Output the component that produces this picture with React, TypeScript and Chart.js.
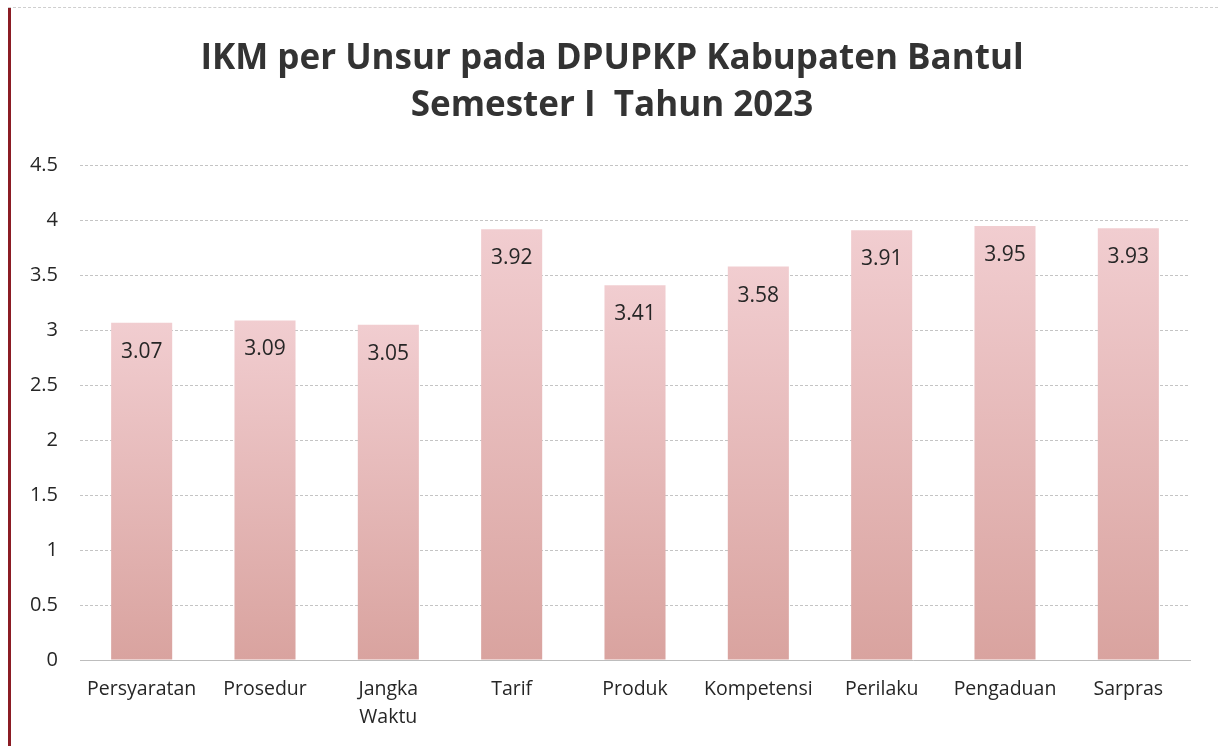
import React, { useEffect, useRef } from "react";
import { Chart, registerables } from "chart.js";

Chart.register(...registerables);

const titleLines = ["IKM per Unsur pada DPUPKP Kabupaten Bantul", "Semester I  Tahun 2023"];
const categories: (string | string[])[] = [
  "Persyaratan",
  "Prosedur",
  ["Jangka", "Waktu"],
  "Tarif",
  "Produk",
  "Kompetensi",
  "Perilaku",
  "Pengaduan",
  "Sarpras",
];
const values = [3.07, 3.09, 3.05, 3.92, 3.41, 3.58, 3.91, 3.95, 3.93];
const yMax = 4.5;
const yStep = 0.5;

const FONT = "'Open Sans', sans-serif";
const TEXT = "#262626";

const valueLabels = {
  id: "valueLabels",
  afterDatasetsDraw(chart: any) {
    const ctx = chart.ctx;
    const meta = chart.getDatasetMeta(0);
    ctx.save();
    ctx.font = `21px ${FONT}`;
    ctx.fillStyle = TEXT;
    ctx.textAlign = "center";
    ctx.textBaseline = "middle";
    meta.data.forEach((bar: any, i: number) => {
      ctx.fillText(values[i].toFixed(2), bar.x, bar.y + 29);
    });
    ctx.restore();
  },
};

export default function App() {
  const ref = useRef<HTMLCanvasElement>(null);
  useEffect(() => {
    if (!ref.current) return;
    const chart = new Chart(ref.current, {
      type: "bar",
      data: {
        labels: categories,
        datasets: [
          {
            data: values,
            backgroundColor: (c: any) => {
              const ch = c.chart;
              const y = ch.scales?.y;
              if (!ch.chartArea || !y || c.parsed == null) return "#e6b8b7";
              const top = y.getPixelForValue(c.parsed.y);
              const bottom = y.getPixelForValue(0);
              const g = ch.ctx.createLinearGradient(0, top, 0, bottom);
              g.addColorStop(0, "#f1cdd0");
              g.addColorStop(1, "#d9a39f");
              return g;
            },
            borderWidth: 0,
            categoryPercentage: 1,
            barPercentage: 0.495,
          },
        ],
      },
      options: {
        animation: false,
        responsive: false,
        maintainAspectRatio: false,
        layout: { padding: { left: 6, right: 0, top: 0, bottom: 0 } },
        plugins: {
          legend: { display: false },
          tooltip: { enabled: false },
          title: {
            display: true,
            text: titleLines,
            color: "#333333",
            font: { family: FONT, size: 35, weight: "bold", lineHeight: 1.35 },
            padding: { top: 35, bottom: 36 },
          },
        },
        scales: {
          x: {
            grid: { display: false, drawTicks: false },
            border: { display: true, color: "#bdbdbd", width: 1 },
            ticks: {
              color: TEXT,
              font: { family: FONT, size: 19.5, lineHeight: 1.4 },
              padding: 16,
              maxRotation: 0,
              autoSkip: false,
            },
            afterFit: (s: any) => {
              s.height = 86;
            },
          },
          y: {
            min: 0,
            max: yMax,
            grid: {
              color: "#c4c4c4",
              lineWidth: 1,
              drawTicks: false,
            },
            border: { display: false, dash: [3, 2] },
            ticks: {
              stepSize: yStep,
              color: TEXT,
              font: { family: FONT, size: 20 },
              padding: 22,
              callback: (v: any) => String(v),
            },
            afterFit: (s: any) => {
              s.width = 74;
            },
          },
          yRightSpace: {
            position: "right",
            min: 0,
            max: yMax,
            display: true,
            grid: { display: false, drawTicks: false },
            border: { display: false },
            ticks: { display: false },
            afterFit: (s: any) => {
              s.width = 28;
            },
          },
        },
      },
      plugins: [valueLabels],
    });
    return () => chart.destroy();
  }, []);

  return (
    <div
      style={{
        position: "fixed",
        left: 0,
        top: 0,
        width: 1218,
        height: 746,
        background: "#ffffff",
        overflow: "hidden",
      }}
    >
      <div
        style={{
          position: "absolute",
          left: 8,
          top: 8,
          width: 3,
          height: 738,
          background: "#8b1c24",
        }}
      />
      <div
        style={{
          position: "absolute",
          left: 8,
          top: 7,
          width: 1210,
          height: 0,
          borderTop: "1px dashed #cfcfcf",
        }}
      />
      <canvas ref={ref} width={1218} height={746} style={{ display: "block" }} />
    </div>
  );
}
